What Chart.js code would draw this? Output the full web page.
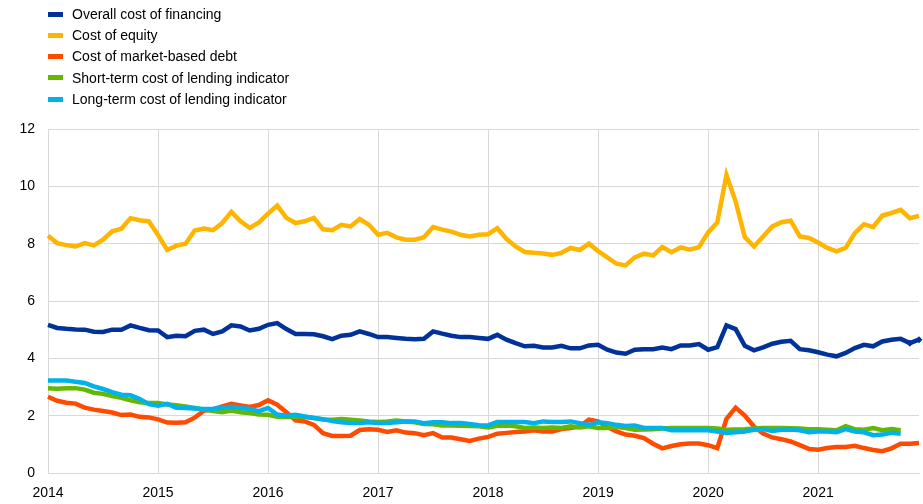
<!DOCTYPE html>
<html>
<head>
<meta charset="utf-8">
<script src="https://cdn.jsdelivr.net/npm/chart.js@4"></script>
<style>
  body { margin: 0; background: #fff; }
  #wrap { position: relative; width: 923px; height: 504px; }
  #legend { position: absolute; left: 48px; top: 4px; font: 14px "Liberation Sans", Arial, sans-serif; color: #000; }
  #legend div { height: 21.2px; line-height: 21.2px; white-space: nowrap; }
  #legend span { display: inline-block; width: 15px; height: 5px; margin-right: 9px; vertical-align: middle; position: relative; top: -1px; }
</style>
</head>
<body>
<div id="wrap">
  <canvas id="chart"></canvas>
  <div id="legend"></div>
</div>
<script>
const years = ['2014', '2015', '2016', '2017', '2018', '2019', '2020', '2021'];
const months = ['01','02','03','04','05','06','07','08','09','10','11','12'];
const labels = [];
years.forEach(y => months.forEach(m => labels.push(y + '-' + m)));

// monthly values, Jan 2014 - Dec 2021
const overall = [
  5.17, 5.06, 5.03, 5.01, 5.00, 4.93, 4.92, 5.00, 5.00, 5.15, 5.06, 4.98,
  4.97, 4.74, 4.79, 4.77, 4.96, 5.00, 4.85, 4.94, 5.15, 5.11, 4.97, 5.03,
  5.17, 5.23, 5.02, 4.85, 4.85, 4.84, 4.77, 4.67, 4.79, 4.82, 4.94, 4.85,
  4.74, 4.74, 4.71, 4.68, 4.67, 4.68, 4.94, 4.86, 4.79, 4.74, 4.74, 4.71,
  4.68, 4.82, 4.65, 4.53, 4.42, 4.44, 4.38, 4.38, 4.44, 4.35, 4.35, 4.45,
  4.47, 4.30, 4.20, 4.16, 4.30, 4.32, 4.32, 4.38, 4.32, 4.45, 4.45, 4.50,
  4.30, 4.39, 5.15, 5.02, 4.44, 4.28, 4.38, 4.51, 4.58, 4.61, 4.32, 4.28,
  4.21, 4.13, 4.07, 4.19, 4.36, 4.47, 4.42, 4.59, 4.65, 4.68, 4.53, 4.65
];
const equity = [
  8.28, 8.02, 7.95, 7.90, 8.02, 7.94, 8.14, 8.43, 8.52, 8.89, 8.82, 8.78,
  8.30, 7.78, 7.93, 8.00, 8.46, 8.53, 8.47, 8.72, 9.11, 8.78, 8.55, 8.74,
  9.05, 9.33, 8.90, 8.72, 8.78, 8.90, 8.50, 8.47, 8.66, 8.60, 8.86, 8.66,
  8.31, 8.38, 8.22, 8.14, 8.14, 8.22, 8.58, 8.49, 8.42, 8.31, 8.25, 8.31,
  8.33, 8.54, 8.17, 7.90, 7.71, 7.68, 7.66, 7.61, 7.68, 7.85, 7.78, 8.00,
  7.74, 7.52, 7.30, 7.24, 7.52, 7.65, 7.59, 7.88, 7.70, 7.87, 7.79, 7.88,
  8.39, 8.74, 10.40, 9.47, 8.23, 7.90, 8.25, 8.60, 8.75, 8.80, 8.25, 8.20,
  8.04, 7.85, 7.73, 7.85, 8.37, 8.68, 8.58, 8.98, 9.07, 9.18, 8.89, 8.97
];
const marketDebt = [
  2.66, 2.52, 2.45, 2.42, 2.28, 2.21, 2.16, 2.11, 2.02, 2.04, 1.96, 1.94,
  1.87, 1.76, 1.75, 1.77, 1.93, 2.17, 2.22, 2.32, 2.41, 2.36, 2.30, 2.37,
  2.54, 2.38, 2.12, 1.84, 1.80, 1.68, 1.39, 1.29, 1.29, 1.30, 1.50, 1.53,
  1.51, 1.43, 1.49, 1.41, 1.39, 1.32, 1.39, 1.24, 1.24, 1.18, 1.12, 1.20,
  1.26, 1.37, 1.40, 1.43, 1.45, 1.49, 1.45, 1.45, 1.53, 1.57, 1.63, 1.86,
  1.80, 1.60, 1.45, 1.34, 1.30, 1.22, 1.02, 0.86, 0.94, 1.00, 1.03, 1.03,
  0.97, 0.87, 1.89, 2.28, 2.00, 1.62, 1.38, 1.24, 1.18, 1.10, 0.97, 0.84,
  0.81, 0.87, 0.91, 0.91, 0.95, 0.87, 0.80, 0.76, 0.86, 1.02, 1.02, 1.05
];
// lending indicators end Oct 2021
const shortTerm = [
  2.96, 2.94, 2.96, 2.96, 2.91, 2.80, 2.76, 2.68, 2.62, 2.54, 2.47, 2.44,
  2.44, 2.39, 2.36, 2.32, 2.27, 2.21, 2.16, 2.12, 2.18, 2.12, 2.09, 2.04,
  2.03, 1.96, 1.95, 1.97, 1.95, 1.92, 1.87, 1.86, 1.88, 1.86, 1.83, 1.80,
  1.78, 1.80, 1.83, 1.80, 1.77, 1.71, 1.70, 1.66, 1.66, 1.65, 1.64, 1.63,
  1.59, 1.65, 1.66, 1.63, 1.57, 1.59, 1.57, 1.59, 1.57, 1.63, 1.59, 1.63,
  1.57, 1.57, 1.60, 1.57, 1.51, 1.52, 1.53, 1.55, 1.57, 1.57, 1.57, 1.57,
  1.57, 1.55, 1.51, 1.52, 1.53, 1.55, 1.57, 1.57, 1.57, 1.56, 1.55, 1.53,
  1.53, 1.51, 1.49, 1.63, 1.53, 1.51, 1.57, 1.49, 1.53, 1.49
];
const longTerm = [
  3.23, 3.23, 3.23, 3.18, 3.14, 3.02, 2.93, 2.82, 2.73, 2.71, 2.58, 2.40,
  2.35, 2.41, 2.28, 2.27, 2.25, 2.23, 2.24, 2.27, 2.31, 2.27, 2.23, 2.16,
  2.27, 2.04, 2.00, 2.03, 1.97, 1.92, 1.88, 1.81, 1.77, 1.74, 1.74, 1.77,
  1.74, 1.74, 1.77, 1.80, 1.80, 1.74, 1.77, 1.77, 1.74, 1.74, 1.71, 1.67,
  1.66, 1.78, 1.78, 1.78, 1.78, 1.74, 1.80, 1.78, 1.78, 1.80, 1.74, 1.68,
  1.77, 1.74, 1.68, 1.64, 1.66, 1.57, 1.57, 1.57, 1.49, 1.49, 1.49, 1.49,
  1.49, 1.45, 1.40, 1.42, 1.45, 1.51, 1.53, 1.47, 1.51, 1.52, 1.49, 1.42,
  1.45, 1.45, 1.42, 1.53, 1.45, 1.42, 1.32, 1.34, 1.40, 1.37
];

const seriesNames = [
  'Overall cost of financing',
  'Cost of equity',
  'Cost of market-based debt',
  'Short-term cost of lending indicator',
  'Long-term cost of lending indicator'
];
const colors = ['#003299', '#FFB400', '#FF4B00', '#65B800', '#00B1EA'];
const seriesData = [overall, equity, marketDebt, shortTerm, longTerm];

// diamonds on the last two points of the overall series
const overallRadius = overall.map((v, i) => i >= overall.length - 2 ? 3.5 : 0);

const datasets = seriesData.map((d, i) => ({
  label: seriesNames[i],
  data: d,
  borderColor: colors[i],
  backgroundColor: colors[i],
  borderWidth: 4.5,
  pointRadius: i === 0 ? overallRadius : 0,
  pointStyle: 'rectRot',
  pointBorderWidth: 0,
  tension: 0,
  fill: false,
  order: 4 - i
}));

const legend = document.getElementById('legend');
seriesNames.forEach((name, i) => {
  const row = document.createElement('div');
  row.innerHTML = '<span style="background:' + colors[i] + '"></span>' + name;
  legend.appendChild(row);
});

const font = { family: '"Liberation Sans", Arial, sans-serif', size: 14 };

new Chart(document.getElementById('chart'), {
  type: 'line',
  data: { labels: labels, datasets: datasets },
  options: {
    responsive: true,
    maintainAspectRatio: false,
    animation: false,
    layout: { padding: { top: 129, right: 3, bottom: 0, left: 0 } },
    plugins: { legend: { display: false }, tooltip: { enabled: false } },
    scales: {
      x: {
        type: 'category',
        offset: false,
        grid: {
          color: ctx => (ctx.index % 12 === 0 ? '#d9d9d9' : 'rgba(0,0,0,0)'),
          lineWidth: 1,
          drawTicks: false
        },
        border: { color: '#d9d9d9', width: 1 },
        ticks: {
          autoSkip: false,
          maxRotation: 0,
          padding: 12,
          color: '#000',
          font: font,
          callback: function (v, i) { return i % 12 === 0 ? labels[i].slice(0, 4) : ''; }
        },
        afterFit: s => { s.height = 31; s.paddingLeft = 0; s.paddingRight = 0; }
      },
      y: {
        min: 0,
        max: 12,
        grid: { color: '#d9d9d9', lineWidth: 1, drawTicks: false },
        border: { color: '#d9d9d9', width: 1 },
        ticks: { stepSize: 2, padding: 13, color: '#000', font: font },
        afterFit: s => { s.width = 48; }
      }
    }
  }
});
</script>
</body>
</html>
